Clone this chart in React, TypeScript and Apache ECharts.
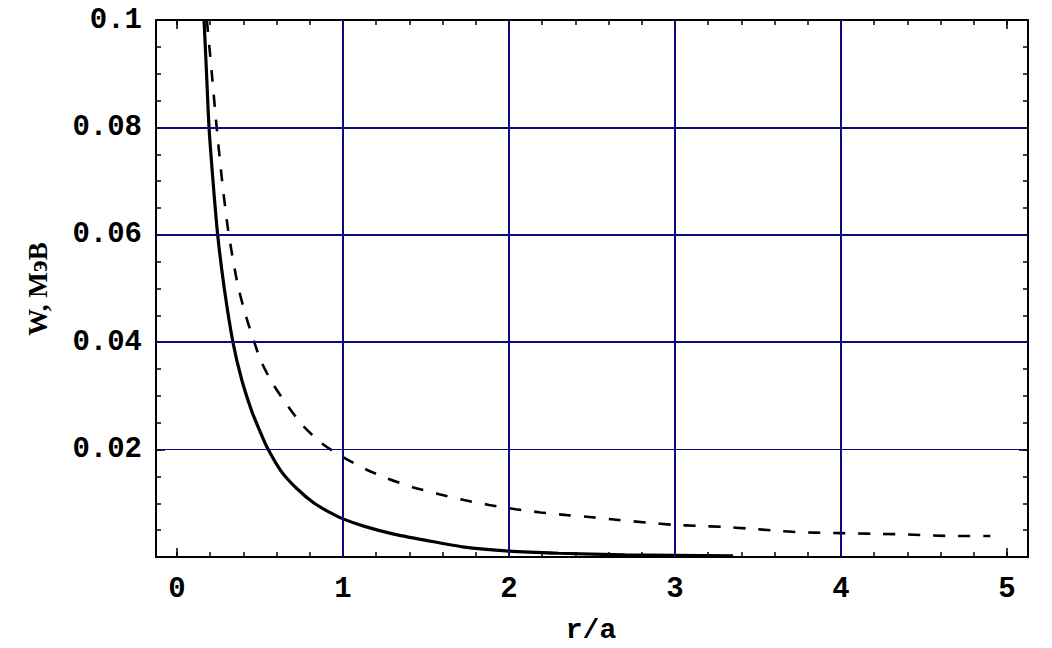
import React, { useEffect, useRef } from "react";
import * as echarts from "echarts";

// r/a values and W (MeV) values
const solidR = [0.163, 0.178, 0.193, 0.217, 0.245, 0.285, 0.337, 0.39, 0.45, 0.5, 0.545, 0.627, 0.72, 0.827, 0.92, 1.0, 1.13, 1.3, 1.5, 1.72, 2.0, 2.3, 2.7, 3.0, 3.35];
const solidW = [0.1, 0.09, 0.08, 0.07, 0.06, 0.05, 0.04, 0.033, 0.0272, 0.0234, 0.0203, 0.016, 0.0128, 0.01, 0.0083, 0.0071, 0.0057, 0.0043, 0.0031, 0.0019, 0.0011, 0.0007, 0.0004, 0.0003, 0.0002];

const dashedR = [0.18, 0.21, 0.239, 0.272, 0.309, 0.365, 0.416, 0.456, 0.506, 0.576, 0.657, 0.757, 0.867, 1.0, 1.14, 1.27, 1.42, 1.58, 1.73, 1.88, 2.04, 2.19, 2.35, 2.5, 2.66, 2.83, 2.99, 3.13, 3.29, 3.44, 3.61, 3.76, 3.92, 4.07, 4.24, 4.4, 4.55, 4.7, 4.9];
const dashedW = [0.1, 0.09, 0.08, 0.07, 0.0607, 0.0508, 0.0448, 0.0409, 0.0365, 0.0323, 0.0286, 0.0245, 0.0213, 0.0186, 0.0163, 0.0146, 0.013, 0.0117, 0.0106, 0.0097, 0.0089, 0.0083, 0.0078, 0.0074, 0.0069, 0.0064, 0.006, 0.0058, 0.0056, 0.0053, 0.0049, 0.0046, 0.0045, 0.0044, 0.0043, 0.0042, 0.004, 0.0039, 0.0039];

const xLabels = [0, 1, 2, 3, 4, 5];
const xMinorTicks = [0, 0.2, 0.4, 0.6, 0.8, 1, 1.2, 1.4, 1.6, 1.8, 2, 2.2, 2.4, 2.6, 2.8, 3, 3.2, 3.4, 3.6, 3.8, 4, 4.2, 4.4, 4.6, 4.8, 5];
const yLabels = [0.02, 0.04, 0.06, 0.08, 0.1];
const yMinorTicks = [0, 0.005, 0.01, 0.015, 0.02, 0.025, 0.03, 0.035, 0.04, 0.045, 0.05, 0.055, 0.06, 0.065, 0.07, 0.075, 0.08, 0.085, 0.09, 0.095, 0.1];
const yMajorTicks = [0, 0.02, 0.04, 0.06, 0.08, 0.1];
const xGridValues = [1, 2, 3, 4];
const yGridValues = [0.02, 0.04, 0.06, 0.08];

const X_MIN = -0.1265;
const X_MAX = 5.127;
const NAVY = "#0a0a7a";
const FONT = "Liberation Mono";

export default function App() {
  const ref = useRef<HTMLDivElement>(null);

  useEffect(() => {
    if (!ref.current) return;
    const chart = echarts.init(ref.current, null, { renderer: "svg" });

    const lineBlack = { show: true, onZero: false, lineStyle: { color: "#000", width: 2 } };
    const lineNone = { show: false, onZero: false };
    const makeX = (pos: string, ticks: number[], len: number, labels: boolean, line: boolean) => ({
      type: "value",
      position: pos,
      min: X_MIN,
      max: X_MAX,
      axisLine: line ? lineBlack : lineNone,
      axisTick: { show: true, inside: true, length: len, customValues: ticks, lineStyle: { color: "#000", width: 1.5 } },
      axisLabel: labels
        ? { show: true, customValues: xLabels, margin: 18, fontFamily: FONT, fontWeight: "bold", fontSize: 29, color: "#000" }
        : { show: false },
      splitLine: { show: false },
    });
    const makeY = (pos: string, ticks: number[], len: number, labels: boolean, line: boolean) => ({
      type: "value",
      position: pos,
      min: 0,
      max: 0.1,
      axisLine: line ? lineBlack : lineNone,
      axisTick: { show: true, inside: true, length: len, customValues: ticks, lineStyle: { color: "#000", width: 1.5 } },
      axisLabel: labels
        ? { show: true, customValues: yLabels, margin: 14, fontFamily: FONT, fontWeight: "bold", fontSize: 29, color: "#000",
            formatter: (v: number) => String(+v.toFixed(3)) }
        : { show: false },
      splitLine: { show: false },
    });

    const gridLines = [
      ...xGridValues.map((v) => ({ xAxis: v, lineStyle: { color: NAVY, width: 2, type: "solid" } })),
      ...yGridValues.map((v) => ({ yAxis: v, lineStyle: { color: NAVY, width: v === 0.02 ? 1 : 2, type: "solid" } })),
    ];

    chart.setOption({
      animation: false,
      backgroundColor: "#fff",
      grid: { left: 156, right: 24, top: 20, bottom: 91, containLabel: false },
      xAxis: [
        makeX("bottom", xMinorTicks, 5, true, true),
        makeX("bottom", xLabels, 9, false, false),
        makeX("top", xMinorTicks, 5, false, true),
        makeX("top", xLabels, 9, false, false),
      ],
      yAxis: [
        makeY("left", yMinorTicks, 5, true, true),
        makeY("left", yMajorTicks, 9, false, false),
        makeY("right", yMinorTicks, 5, false, true),
        makeY("right", yMajorTicks, 9, false, false),
      ],
      graphic: [
        {
          type: "text",
          x: 591,
          y: 630,
          style: { text: "r/a", fontFamily: FONT, fontWeight: "bold", fontSize: 28, fill: "#000", align: "center", verticalAlign: "middle" },
        },
        {
          type: "text",
          x: 38,
          y: 289,
          rotation: Math.PI / 2,
          style: { text: "W, МэВ", fontFamily: "Liberation Serif", fontWeight: "bold", fontSize: 27, fill: "#000", align: "center", verticalAlign: "middle" },
        },
      ],
      series: [
        {
          name: "grid",
          type: "line",
          data: [],
          z: 1,
          silent: true,
          markLine: { silent: true, symbol: ["none", "none"], label: { show: false }, animation: false, data: gridLines },
        },
        {
          name: "solid",
          type: "line",
          z: 3,
          showSymbol: false,
          symbol: "none",
          smooth: 0.25,
          lineStyle: { color: "#000", width: 3.2, type: "solid" },
          data: solidR.map((r, i) => [r, solidW[i]]),
        },
        {
          name: "dashed",
          type: "line",
          z: 3,
          showSymbol: false,
          symbol: "none",
          smooth: 0.25,
          lineStyle: { color: "#000", width: 2.6, type: [12, 13] },
          data: dashedR.map((r, i) => [r, dashedW[i]]),
        },
      ],
    });

    return () => chart.dispose();
  }, []);

  return <div ref={ref} style={{ position: "absolute", left: 0, top: 0, width: 1052, height: 648 }} />;
}
